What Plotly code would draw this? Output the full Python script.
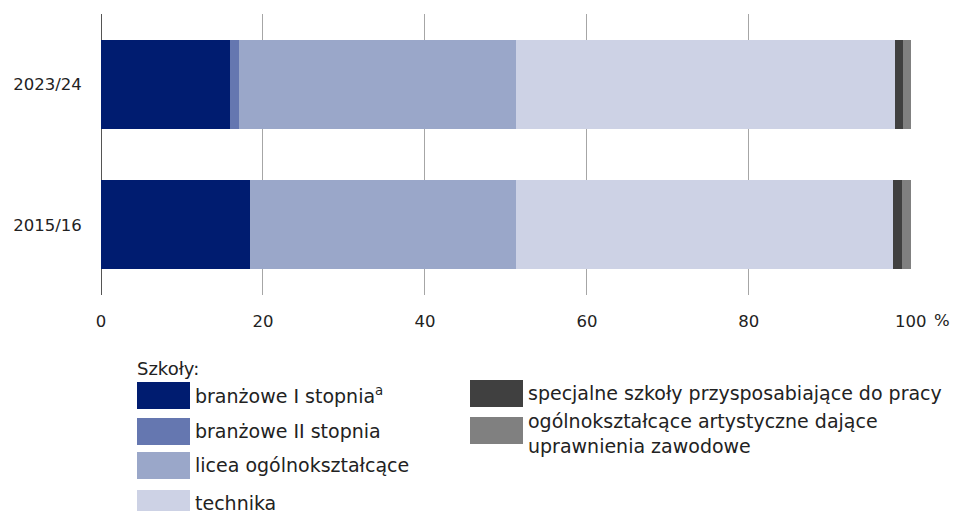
import plotly.graph_objects as go

# Uczniowie wg typu szkoły (%)
lata = ["2015/16", "2023/24"]
branzowe_1 = [18.4, 15.9]
branzowe_2 = [0.0, 1.2]
licea = [32.8, 34.1]
technika = [46.6, 46.9]
specjalne = [1.05, 0.9]
artystyczne = [1.15, 1.0]

nazwy = [
    "branżowe I stopnia<sup>a</sup>",
    "branżowe II stopnia",
    "licea ogólnokształcące",
    "technika",
    "specjalne szkoły przysposabiające do pracy",
    "ogólnokształcące artystyczne dające<br>uprawnienia zawodowe",
]
kolory = ["#001c70", "#6577b0", "#9aa7c9", "#cdd2e5", "#404040", "#808080"]
serie = [branzowe_1, branzowe_2, licea, technika, specjalne, artystyczne]

W, H = 954, 511
L, R, T, B = 101, 43, 14, 216
FONT = "DejaVu Sans, Noto Sans, sans-serif"
TXT = "#222"

fig = go.Figure()
for nazwa, kolor, wart in zip(nazwy, kolory, serie):
    fig.add_trace(go.Bar(
        y=lata, x=wart, name=nazwa, orientation="h",
        marker=dict(color=kolor, line=dict(width=0)),
        showlegend=False,
    ))


# legenda rysowana ręcznie (prostokąty jak w oryginale)
def px(x):
    return (x - L) / (W - L - R)


def py(y):
    return (H - B - y) / (H - T - B)


fig.add_annotation(x=px(135), y=py(368), xref="paper", yref="paper",
                   text="Szkoły:", showarrow=False, xanchor="left", yanchor="middle",
                   font=dict(size=18, color=TXT))

pozycje = [(137, 382), (137, 418), (137, 452), (137, 490), (470, 380), (470, 417)]
for (x0, y0), nazwa, kolor in zip(pozycje, nazwy, kolory):
    fig.add_shape(type="rect", xref="paper", yref="paper",
                  x0=px(x0), x1=px(x0 + 53), y0=py(y0), y1=py(y0 + 27),
                  fillcolor=kolor, line=dict(width=0))
    ty = y0 + 13
    if "<br>" in nazwa:
        ty = y0 + 16
    fig.add_annotation(x=px(x0 + 56), y=py(ty), xref="paper", yref="paper",
                       text=nazwa, showarrow=False, xanchor="left", yanchor="middle",
                       align="left", font=dict(size=19, color=TXT))

# jednostka przy ostatniej etykiecie osi
fig.add_annotation(x=px(932), y=py(320), xref="paper", yref="paper", text="%",
                   showarrow=False, xanchor="left", yanchor="middle",
                   font=dict(size=16.5, color=TXT))

fig.update_layout(
    width=W, height=H,
    margin=dict(l=L, r=R, t=T, b=B),
    barmode="stack",
    bargap=0.37,
    plot_bgcolor="white",
    paper_bgcolor="white",
    font=dict(family=FONT, size=16.5, color=TXT),
)
fig.update_xaxes(
    range=[0, 100.02], tickvals=[0, 20, 40, 60, 80, 100],
    showgrid=True, gridcolor="#a6a6a6", gridwidth=1,
    zeroline=True, zerolinecolor="#555", zerolinewidth=1,
    ticks="outside", ticklen=11, tickcolor="rgba(0,0,0,0)",
    showline=False, automargin=False,
)
fig.update_yaxes(
    showgrid=False, ticks="outside", ticklen=15, tickcolor="rgba(0,0,0,0)",
    showline=False, automargin=False,
)

# bez domyślnego marginesu strony
fig.write_html("out.html", config={"displayModeBar": False},
               post_script="document.body.style.margin='0';")
